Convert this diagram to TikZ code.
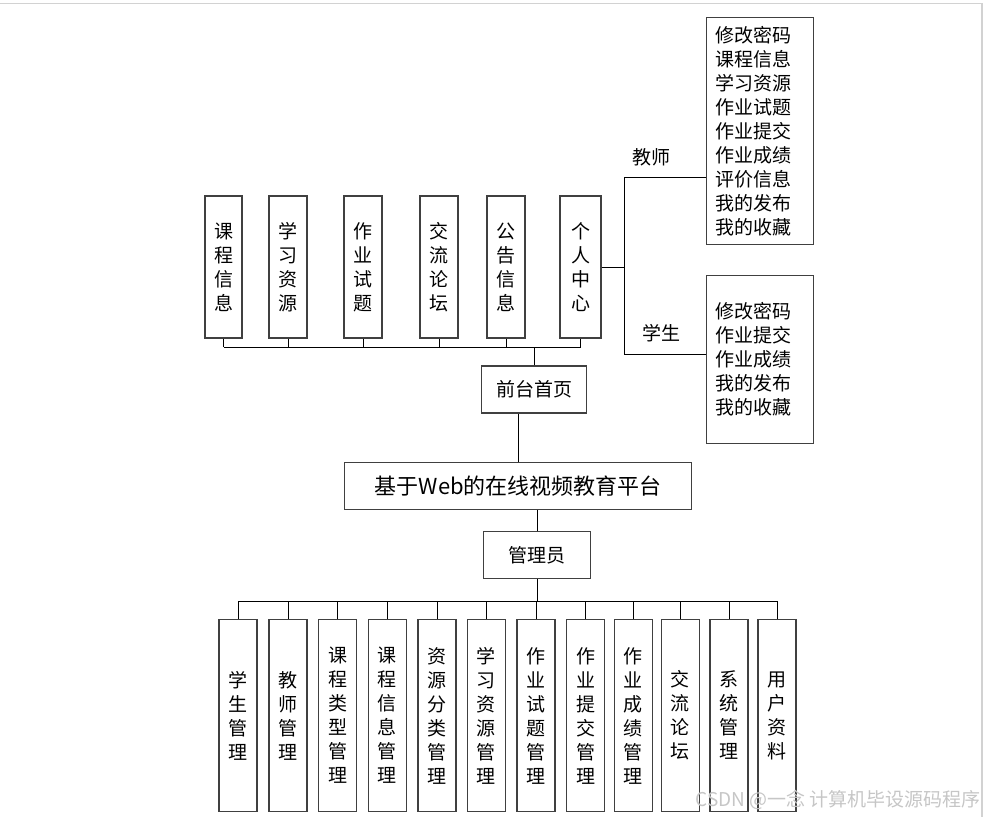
\documentclass[tikz,border=0pt]{standalone}
\usepackage{fontspec}
\setmainfont{Noto Sans CJK SC}
\usetikzlibrary{positioning}

\tikzset{
  vbox/.style={draw=black!75, line width=1.1pt, minimum width=38pt, inner sep=0pt, align=center, font=\fontsize{19}{24}\selectfont},
  hbox/.style={draw=black!75, line width=1.1pt, minimum height=47pt, inner sep=0pt, align=center, font=\fontsize{19}{24}\selectfont},
  lbox/.style={draw=black!75, line width=1.1pt, text width=89pt, inner xsep=8.6pt, inner ysep=0pt, align=left, font=\fontsize{19}{24}\selectfont},
  link/.style={draw=black, line width=1pt},
}

\begin{document}
\begin{tikzpicture}[x=1pt, y=-1pt]
  \useasboundingbox (0,0) rectangle (987,817);
  \draw[gray!35, line width=1.5pt] (0,3.5) -- (982,3.5) -- (982,817);

  % 前台
  \node (f1) [vbox, minimum width=37pt, minimum height=142pt] at (223.5,267) {课\\程\\信\\息};
  \node (f2) [vbox, minimum height=142pt] at (288,267) {学\\习\\资\\源};
  \node (f3) [vbox, minimum height=142pt] at (363,267) {作\\业\\试\\题};
  \node (f4) [vbox, minimum height=142pt] at (439,267) {交\\流\\论\\坛};
  \node (f5) [vbox, minimum height=142pt] at (506,267) {公\\告\\信\\息};
  \node (f6) [vbox, minimum width=41pt, minimum height=142pt] at (580.5,267) {个\\人\\中\\心};
  \node (qtsy) [hbox, minimum width=105pt] at (534.4,389.5) {前台首页};

  % 个人中心
  \node (js) [lbox, minimum height=227pt] at (760,130.8) {修改密码\\课程信息\\学习资源\\作业试题\\作业提交\\作业成绩\\评价信息\\我的发布\\我的收藏};
  \node (xs) [lbox, minimum height=168pt] at (760,359.3) {修改密码\\作业提交\\作业成绩\\我的发布\\我的收藏};
  \node (ljs) [font=\fontsize{19}{24}\selectfont] at (651,157) {教师};
  \node (lxs) [font=\fontsize{19}{24}\selectfont] at (661,333) {学生};

  % 平台
  \node (pt) [hbox, minimum width=347pt, font=\fontsize{22}{26}\selectfont] at (518.3,486.4) {基于Web的在线视频教育平台};
  \node (gly) [hbox, minimum width=107pt] at (537.3,555.3) {管理员};

  % 后台
  \node (g1) [vbox, minimum height=192pt] at (238,715.5) {学\\生\\管\\理};
  \node (g2) [vbox, minimum height=192pt] at (288,715.5) {教\\师\\管\\理};
  \node (g3) [vbox, minimum height=192pt] at (337.7,715.5) {课\\程\\类\\型\\管\\理};
  \node (g4) [vbox, minimum height=192pt] at (387.3,715.5) {课\\程\\信\\息\\管\\理};
  \node (g5) [vbox, minimum height=192pt] at (437,715.5) {资\\源\\分\\类\\管\\理};
  \node (g6) [vbox, minimum height=192pt] at (486.3,715.5) {学\\习\\资\\源\\管\\理};
  \node (g7) [vbox, minimum height=192pt] at (536,715.5) {作\\业\\试\\题\\管\\理};
  \node (g8) [vbox, minimum height=192pt] at (585.5,715.5) {作\\业\\提\\交\\管\\理};
  \node (g9) [vbox, minimum height=192pt] at (633.2,715.5) {作\\业\\成\\绩\\管\\理};
  \node (g10) [vbox, minimum height=192pt] at (680.3,715.5) {交\\流\\论\\坛};
  \node (g11) [vbox, minimum height=192pt] at (729,715.5) {系\\统\\管\\理};
  \node (g12) [vbox, minimum height=192pt] at (777,715.5) {用\\户\\资\\料};

  % 连线
  \coordinate (fbus) at (0,347);
  \draw[link] (f1.south |- fbus) -- (f6.south |- fbus);
  \foreach \n in {1,...,6} \draw[link] (f\n.south) -- (f\n.south |- fbus);
  \draw[link] (qtsy.north) -- (qtsy.north |- fbus);
  \draw[link] (pt.north) -- (pt.north |- qtsy.south);
  \draw[link] (gly.north) -- (gly.north |- pt.south);
  \coordinate (gbus) at (0,601);
  \draw[link] (gly.south) -- (gly.south |- gbus);
  \draw[link] (g1.north |- gbus) -- (g12.north |- gbus);
  \foreach \n in {1,...,12} \draw[link] (g\n.north) -- (g\n.north |- gbus);

  \coordinate (fork) at (624,267);
  \coordinate (tjs) at (624,177);
  \coordinate (txs) at (624,354);
  \draw[link] (f6.east) -- (fork);
  \draw[link] (js.west |- tjs) -- (tjs) -- (txs) -- (xs.west |- txs);

  % 水印
  \node (wm) [anchor=east, text=gray!45, font=\fontsize{19}{19}\selectfont, inner sep=0pt] at (981,800) {CSDN @一念 计算机毕设源码程序};
\end{tikzpicture}
\end{document}
